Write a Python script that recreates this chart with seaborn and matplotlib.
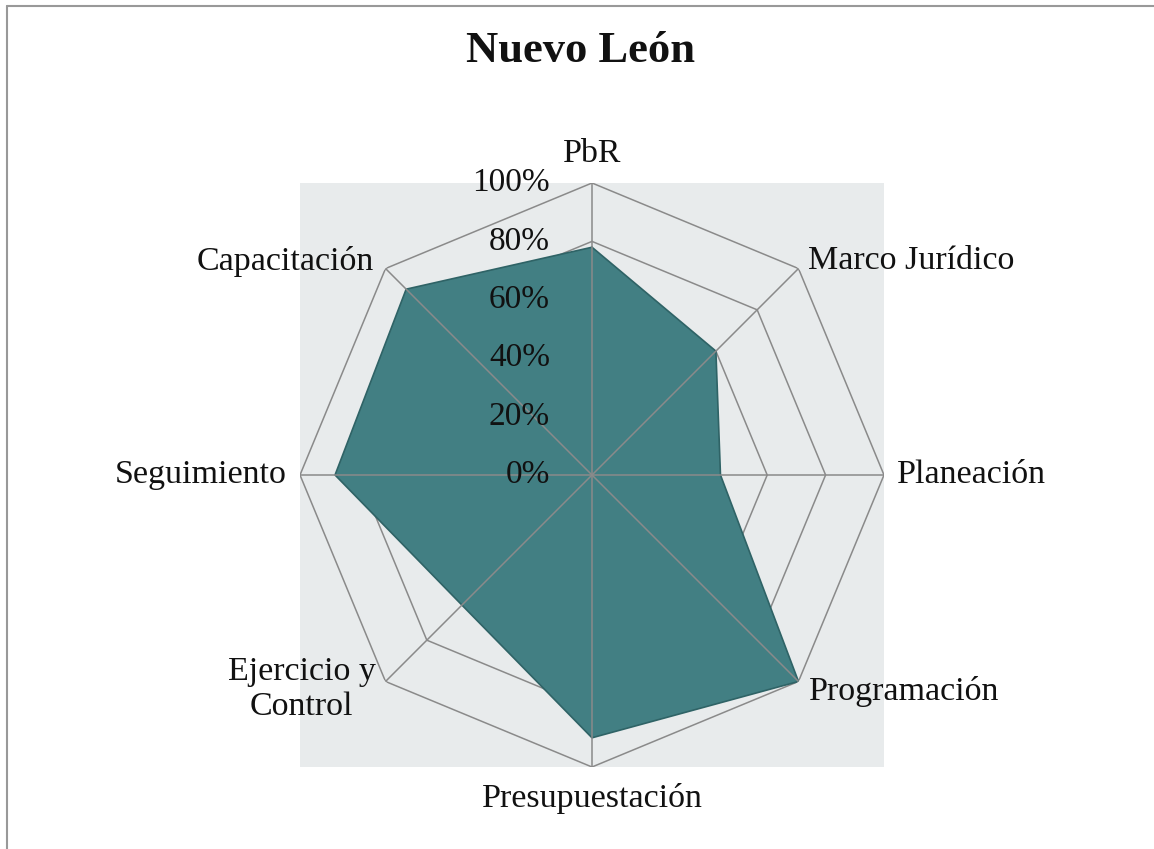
import numpy as np
import matplotlib
matplotlib.use("Agg")
import matplotlib.pyplot as plt
from matplotlib.lines import Line2D
import seaborn as sns

# Indicator categories (clockwise from the top) and their scores in percent
categories = ["PbR", "Marco Jurídico", "Planeación", "Programación",
              "Presupuestación", "Ejercicio y\nControl", "Seguimiento", "Capacitación"]
scores = [78, 60, 44, 100, 90, 63, 88, 90]
ring_levels = [0, 20, 40, 60, 80, 100]
ring_labels = ["0%", "20%", "40%", "60%", "80%", "100%"]
title = "Nuevo León"

sns.set_theme(style="white")
plt.rcParams["font.family"] = ["Liberation Serif", "DejaVu Serif"]

W, H = 1154, 849
fig = plt.figure(figsize=(W / 100, H / 100), dpi=100)
fig.patch.set_facecolor("white")

# square plot area in pixels
x0, y0, side = 300, 183, 584
rect = [x0 / W, 1 - (y0 + side) / H, side / W, side / H]

bg = fig.add_axes(rect, zorder=0)
bg.set_facecolor("#e8ebec")
bg.set_xticks([])
bg.set_yticks([])
for s in bg.spines.values():
    s.set_visible(False)

ax = fig.add_axes(rect, projection="polar", zorder=1)
ax.patch.set_visible(False)
ax.set_theta_zero_location("N")
ax.set_theta_direction(-1)
ax.set_ylim(0, 100)
ax.grid(False)
ax.set_xticks([])
ax.set_yticks([])
ax.spines["polar"].set_visible(False)

n = len(categories)
theta = np.arange(n) * 2 * np.pi / n
theta_c = np.append(theta, theta[0])

grid_col = "#8a8a8a"
lw = 1.1
fs = 24.5

# polygonal rings
for lvl in ring_levels[1:]:
    ax.plot(theta_c, [lvl] * (n + 1), color=grid_col, lw=lw, zorder=1,
            solid_joinstyle="miter")

# filled score polygon
vals_c = scores + scores[:1]
ax.fill(theta_c, vals_c, color="#427f83", zorder=2, lw=0)
sns.lineplot(x=theta_c, y=vals_c, sort=False, ax=ax, color="#2f6366",
             lw=1.2, zorder=3, estimator=None)

# spokes on top
for t in theta:
    ax.plot([t, t], [0, 100], color=grid_col, lw=lw, zorder=4)

ax.set_xlabel("")
ax.set_ylabel("")

# ring value labels along the top spoke
for lvl, lab in zip(ring_levels, ring_labels):
    ax.annotate(lab, xy=(0, lvl), xytext=(-42, 0), textcoords="offset pixels",
                ha="right", va="center", fontsize=24, color="#111111", zorder=5)

# category labels around the outer ring
offsets = [
    ((0, 14), "center", "bottom"),
    ((10, 8), "left", "center"),
    ((13, 0), "left", "center"),
    ((10, -10), "left", "center"),
    ((0, -16), "center", "top"),
    ((-10, -8), "right", "center"),
    ((-13, 0), "right", "center"),
    ((-12, 7), "right", "center"),
]
for t, lab, (off, ha, va) in zip(theta, categories, offsets):
    ax.annotate(lab, xy=(t, 100), xytext=off, textcoords="offset pixels",
                ha=ha, va=va, fontsize=fs, color="#111111",
                multialignment="center", linespacing=1.2, annotation_clip=False)

fig.text(580 / W, 1 - 51 / H, title, ha="center", va="center",
         fontsize=32, fontweight="bold", color="#111111")

# outer frame lines
fig.add_artist(Line2D([6.5 / W, 6.5 / W], [0, 1 - 6 / H], transform=fig.transFigure,
                      color="#999999", lw=1.5))
fig.add_artist(Line2D([6.5 / W, 1], [1 - 6 / H, 1 - 6 / H], transform=fig.transFigure,
                      color="#999999", lw=1.5))

fig.savefig("out.png", dpi=100)
